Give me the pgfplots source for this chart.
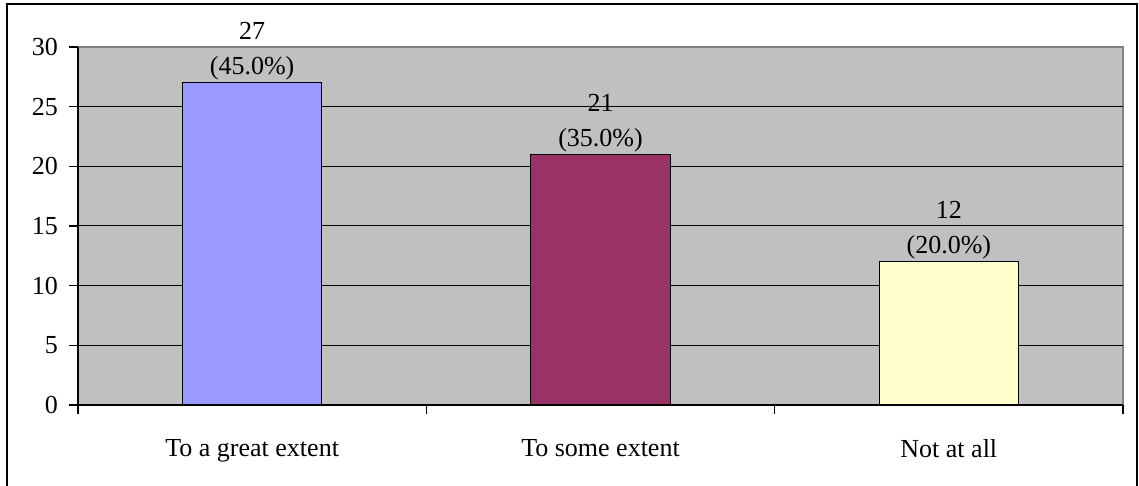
\documentclass[border=0pt]{standalone}
\usepackage{pgfplots}
\pgfplotsset{compat=1.18}
\usepackage{fontspec}
\setmainfont{Liberation Serif}

\definecolor{plotbg}{HTML}{C0C0C0}
\definecolor{plotborder}{HTML}{808080}
\definecolor{barA}{HTML}{9999FF}
\definecolor{barB}{HTML}{993366}
\definecolor{barC}{HTML}{FFFFCC}

\newcommand{\chartfont}{\fontsize{13}{17.5}\selectfont}

\begin{document}
\begin{tikzpicture}
% page size and outer frame (its bottom edge falls outside the page)
\useasboundingbox (0,0) rectangle (569.5pt,243pt);
\draw[line width=1pt] (3.5pt,0pt) -- (3.5pt,241pt) -- (568.5pt,241pt) -- (568.5pt,0pt);

\begin{axis}[
    at={(39pt,40.5pt)},
    anchor=south west,
    scale only axis,
    width=522.5pt,
    height=179pt,
    xmin=-0.5, xmax=2.5,
    ymin=0, ymax=30,
    axis x line*=bottom,
    axis y line*=left,
    axis line style={line width=0.7pt},
    axis background/.style={fill=plotbg, draw=plotborder, line width=0.8pt},
    tick align=outside,
    major tick length=4.5pt,
    tick style={black, line width=0.6pt},
    ytick={0,5,...,25},
    extra y ticks={30},
    extra y tick style={grid=none},
    ymajorgrids,
    grid style={black, line width=0.5pt},
    xtick={-0.5,0.5,1.5,2.5},
    xticklabels={},
    extra x ticks={0,1,2},
    extra x tick labels={To a great extent,To some extent,Not at all},
    extra x tick style={major tick length=0pt, grid=none,
        tick label style={yshift=-13.5pt}},
    /pgf/number format/assume math mode=true,
    ticklabel style={font=\chartfont},
    yticklabel style={xshift=-2pt},
    ybar,
    bar width=0.4,
    nodes near coords style={font=\chartfont, align=center, inner sep=1pt, anchor=south},
]
\addplot[bar shift=0pt, fill=barA, draw=black, line width=0.6pt,
    nodes near coords={\pgfmathprintnumber{\pgfplotspointmeta}\\(45.0\%)}]
    coordinates {(0,27)};
\addplot[bar shift=0pt, fill=barB, draw=black, line width=0.6pt,
    nodes near coords={\pgfmathprintnumber{\pgfplotspointmeta}\\(35.0\%)}]
    coordinates {(1,21)};
\addplot[bar shift=0pt, fill=barC, draw=black, line width=0.6pt,
    nodes near coords={\pgfmathprintnumber{\pgfplotspointmeta}\\(20.0\%)}]
    coordinates {(2,12)};
\end{axis}
\end{tikzpicture}
\end{document}
